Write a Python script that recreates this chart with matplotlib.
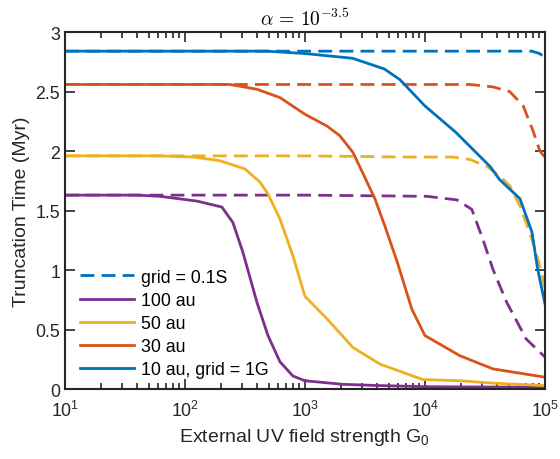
import matplotlib
matplotlib.use("Agg")
import matplotlib.pyplot as plt
import numpy as np
from matplotlib.ticker import LogLocator

plt.rcParams['font.family'] = ['Liberation Sans', 'DejaVu Sans']
plt.rcParams['mathtext.fontset'] = 'custom'
plt.rcParams['mathtext.rm'] = 'Liberation Sans'
plt.rcParams['mathtext.it'] = 'Liberation Sans:italic'

# ---- data (G0 values and truncation times in Myr) ----
g_100 = [10, 40, 62, 126, 203, 251, 304, 398, 492, 619, 794, 1000, 2070, 3980, 10400, 100000]
t_100 = [1.63, 1.63, 1.62, 1.58, 1.53, 1.40, 1.15, 0.73, 0.45, 0.23, 0.11, 0.07, 0.04, 0.03, 0.02, 0.015]

g_50 = [10, 62, 117, 195, 316, 422, 492, 619, 794, 1000, 1530, 2510, 4220, 9600, 19600, 36800, 96000, 100000]
t_50 = [1.96, 1.96, 1.95, 1.92, 1.85, 1.74, 1.64, 1.43, 1.12, 0.78, 0.59, 0.35, 0.21, 0.08, 0.07, 0.05, 0.03, 0.03]

g_30 = [10, 237, 398, 619, 1000, 1530, 1950, 2510, 3020, 3830, 4640, 5870, 7800, 10000, 19600, 36800, 100000]
t_30 = [2.56, 2.56, 2.52, 2.45, 2.31, 2.21, 2.13, 1.99, 1.82, 1.60, 1.37, 1.07, 0.67, 0.45, 0.28, 0.17, 0.10]

g_10 = [10, 100, 480, 1000, 2500, 4600, 6200, 10000, 18000, 35000, 42000, 62000, 78000, 87000, 100000]
t_10 = [2.84, 2.84, 2.84, 2.82, 2.78, 2.69, 2.60, 2.38, 2.16, 1.87, 1.76, 1.60, 1.32, 1.01, 0.72]

g_100s = [10, 1000, 10400, 18500, 24600, 30400, 36800, 48000, 70000, 100000]
t_100s = [1.63, 1.63, 1.62, 1.59, 1.51, 1.26, 1.01, 0.73, 0.42, 0.27]

g_50s = [10, 1000, 7100, 17000, 23700, 33000, 42000, 51000, 62000, 78000, 91000, 100000]
t_50s = [1.96, 1.96, 1.95, 1.95, 1.93, 1.87, 1.79, 1.71, 1.54, 1.26, 1.03, 0.85]

g_30s = [10, 1000, 10000, 23700, 36800, 51000, 66000, 79000, 91000, 100000]
t_30s = [2.56, 2.56, 2.56, 2.56, 2.54, 2.50, 2.38, 2.18, 2.00, 1.95]

g_10s = [10, 1000, 10000, 50000, 78000, 90000, 100000]
t_10s = [2.84, 2.84, 2.84, 2.84, 2.84, 2.82, 2.79]

labels = ['grid = 0.1S', '100 au', '50 au', '30 au', '10 au, grid = 1G']
c_blue, c_red, c_yel, c_pur = '#0072BD', '#D95319', '#EDB120', '#7E2F8E'

fig = plt.figure(figsize=(5.6, 4.6), dpi=100)
ax = fig.add_axes([0.116, 0.152, 0.857, 0.776])

lw = 2.0
dash = (5.0, 2.6)
ax.plot(g_100s, t_100s, color=c_pur, lw=lw, dashes=dash)
ax.plot(g_50s, t_50s, color=c_yel, lw=lw, dashes=dash)
ax.plot(g_30s, t_30s, color=c_red, lw=lw, dashes=dash)
h0, = ax.plot(g_10s, t_10s, color=c_blue, lw=lw, dashes=dash)
h1, = ax.plot(g_100, t_100, color=c_pur, lw=lw)
h2, = ax.plot(g_50, t_50, color=c_yel, lw=lw)
h3, = ax.plot(g_30, t_30, color=c_red, lw=lw)
h4, = ax.plot(g_10, t_10, color=c_blue, lw=lw)

ax.set_xscale('log')
ax.set_xlim(10, 1e5)
ax.set_ylim(0, 3)
ax.set_yticks([0, 0.5, 1, 1.5, 2, 2.5, 3])
ax.set_yticklabels(['0', '0.5', '1', '1.5', '2', '2.5', '3'])
ax.xaxis.set_major_locator(LogLocator(base=10, numticks=10))
ax.xaxis.set_minor_locator(LogLocator(base=10, subs=np.arange(2, 10), numticks=10))

for s in ax.spines.values():
    s.set_linewidth(1.5)
    s.set_color('#262626')
ax.tick_params(which='both', direction='in', top=True, right=True, colors='#262626',
               labelsize=12.8, width=1.2)
ax.tick_params(which='major', length=7)
ax.tick_params(which='minor', length=4)
ax.tick_params(axis='x', pad=8)

ax.set_xlabel(r'External UV field strength G$_\mathregular{0}$', fontsize=14, color='#262626')
ax.set_ylabel('Truncation Time (Myr)', fontsize=14, color='#262626')
ax.set_title(r'$\alpha\,=\,10^{-3.5}$', fontsize=14, math_fontfamily='cm', pad=5)

leg = ax.legend([h0, h1, h2, h3, h4], labels, loc='lower left', frameon=False,
                fontsize=12.8, handlelength=3.0, handletextpad=0.4, labelspacing=0.35,
                borderaxespad=0.2, bbox_to_anchor=(0.01, 0.0))

fig.savefig('out.png', dpi=100)
